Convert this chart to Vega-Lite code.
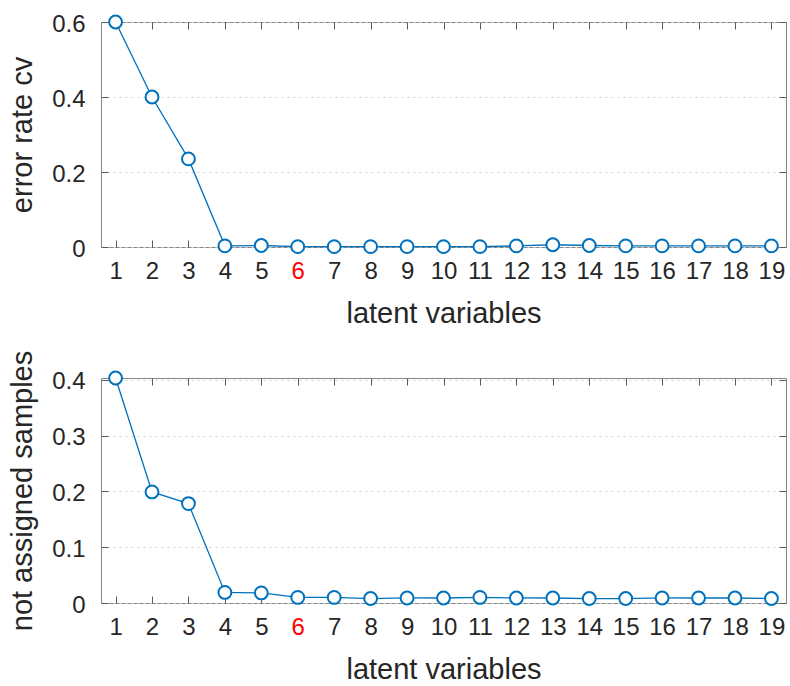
{
  "$schema": "https://vega.github.io/schema/vega-lite/v6.json",
  "padding": {"left": 8, "top": 11, "right": 3, "bottom": 0},
  "spacing": 20,
  "background": "white",
  "config": {
    "font": "Liberation Sans",
    "view": {"stroke": "#858585", "strokeWidth": 1},
    "axis": {
      "labelFont": "Liberation Sans",
      "labelFontSize": 24,
      "labelColor": "#262626",
      "titleFont": "Liberation Sans",
      "titleFontSize": 29,
      "titleFontWeight": "normal",
      "titleColor": "#262626",
      "tickColor": "#5a5a5a",
      "tickSize": -7,
      "tickWidth": 1,
      "domain": false,
      "grid": false
    }
  },
  "datasets": {
    "err": [
      {"lv": 1, "v": 0.6}, {"lv": 2, "v": 0.4}, {"lv": 3, "v": 0.235},
      {"lv": 4, "v": 0.003}, {"lv": 5, "v": 0.004}, {"lv": 6, "v": 0.001},
      {"lv": 7, "v": 0.001}, {"lv": 8, "v": 0.001}, {"lv": 9, "v": 0.001},
      {"lv": 10, "v": 0.001}, {"lv": 11, "v": 0.001}, {"lv": 12, "v": 0.003},
      {"lv": 13, "v": 0.006}, {"lv": 14, "v": 0.004}, {"lv": 15, "v": 0.003},
      {"lv": 16, "v": 0.003}, {"lv": 17, "v": 0.003}, {"lv": 18, "v": 0.003},
      {"lv": 19, "v": 0.003}
    ],
    "nas": [
      {"lv": 1, "v": 0.403}, {"lv": 2, "v": 0.199}, {"lv": 3, "v": 0.178},
      {"lv": 4, "v": 0.019}, {"lv": 5, "v": 0.018}, {"lv": 6, "v": 0.01},
      {"lv": 7, "v": 0.01}, {"lv": 8, "v": 0.008}, {"lv": 9, "v": 0.009},
      {"lv": 10, "v": 0.009}, {"lv": 11, "v": 0.01}, {"lv": 12, "v": 0.009},
      {"lv": 13, "v": 0.009}, {"lv": 14, "v": 0.008}, {"lv": 15, "v": 0.008},
      {"lv": 16, "v": 0.009}, {"lv": 17, "v": 0.009}, {"lv": 18, "v": 0.009},
      {"lv": 19, "v": 0.008}
    ]
  },
  "vconcat": [
    {
      "width": 685,
      "height": 225,
      "data": {"name": "err"},
      "layer": [
        {
          "mark": {"type": "line", "color": "#0072BD", "strokeWidth": 1.3},
          "encoding": {
            "x": {
              "field": "lv", "type": "quantitative",
              "scale": {"domain": [0.6, 19.4], "nice": false, "zero": false},
              "axis": {
                "values": [1,2,3,4,5,6,7,8,9,10,11,12,13,14,15,16,17,18,19],
                "title": "latent variables",
                "labelPadding": 19,
                "titlePadding": 16,
                "labelColor": {"condition": {"test": "datum.value == 6", "value": "#ff0000"}, "value": "#262626"}
              }
            },
            "y": {
              "field": "v", "type": "quantitative",
              "scale": {"domain": [0, 0.6], "nice": false},
              "axis": {
                "values": [0, 0.2, 0.4, 0.6],
                "format": "~g",
                "title": "error rate cv",
                "labelPadding": 23,
                "labelOffset": 2,
                "titlePadding": 14,
                "grid": true,
                "gridDash": [2, 4],
                "gridColor": "#cfcfcf"
              }
            }
          }
        },
        {
          "mark": {"type": "point", "shape": "circle", "filled": false, "fill": "white", "fillOpacity": 1, "stroke": "#0072BD", "strokeWidth": 2, "size": 165, "opacity": 1},
          "encoding": {
            "x": {
              "field": "lv", "type": "quantitative",
              "axis": {"orient": "top", "labels": false, "title": null, "values": [1,2,3,4,5,6,7,8,9,10,11,12,13,14,15,16,17,18,19]}
            },
            "y": {
              "field": "v", "type": "quantitative",
              "axis": {"orient": "right", "labels": false, "title": null, "values": [0, 0.2, 0.4, 0.6]}
            }
          }
        }
      ],
      "resolve": {"axis": {"x": "independent", "y": "independent"}}
    },
    {
      "width": 685,
      "height": 225,
      "data": {"name": "nas"},
      "layer": [
        {
          "mark": {"type": "line", "color": "#0072BD", "strokeWidth": 1.3},
          "encoding": {
            "x": {
              "field": "lv", "type": "quantitative",
              "scale": {"domain": [0.6, 19.4], "nice": false, "zero": false},
              "axis": {
                "values": [1,2,3,4,5,6,7,8,9,10,11,12,13,14,15,16,17,18,19],
                "title": "latent variables",
                "labelPadding": 19,
                "titlePadding": 16,
                "labelColor": {"condition": {"test": "datum.value == 6", "value": "#ff0000"}, "value": "#262626"}
              }
            },
            "y": {
              "field": "v", "type": "quantitative",
              "scale": {"domain": [0, 0.403], "nice": false},
              "axis": {
                "values": [0, 0.1, 0.2, 0.3, 0.4],
                "format": "~g",
                "title": "not assigned samples",
                "labelPadding": 23,
                "labelOffset": 2,
                "titlePadding": 14,
                "grid": true,
                "gridDash": [2, 4],
                "gridColor": "#cfcfcf"
              }
            }
          }
        },
        {
          "mark": {"type": "point", "shape": "circle", "filled": false, "fill": "white", "fillOpacity": 1, "stroke": "#0072BD", "strokeWidth": 2, "size": 165, "opacity": 1},
          "encoding": {
            "x": {
              "field": "lv", "type": "quantitative",
              "axis": {"orient": "top", "labels": false, "title": null, "values": [1,2,3,4,5,6,7,8,9,10,11,12,13,14,15,16,17,18,19]}
            },
            "y": {
              "field": "v", "type": "quantitative",
              "axis": {"orient": "right", "labels": false, "title": null, "values": [0, 0.1, 0.2, 0.3, 0.4]}
            }
          }
        }
      ],
      "resolve": {"axis": {"x": "independent", "y": "independent"}}
    }
  ]
}
